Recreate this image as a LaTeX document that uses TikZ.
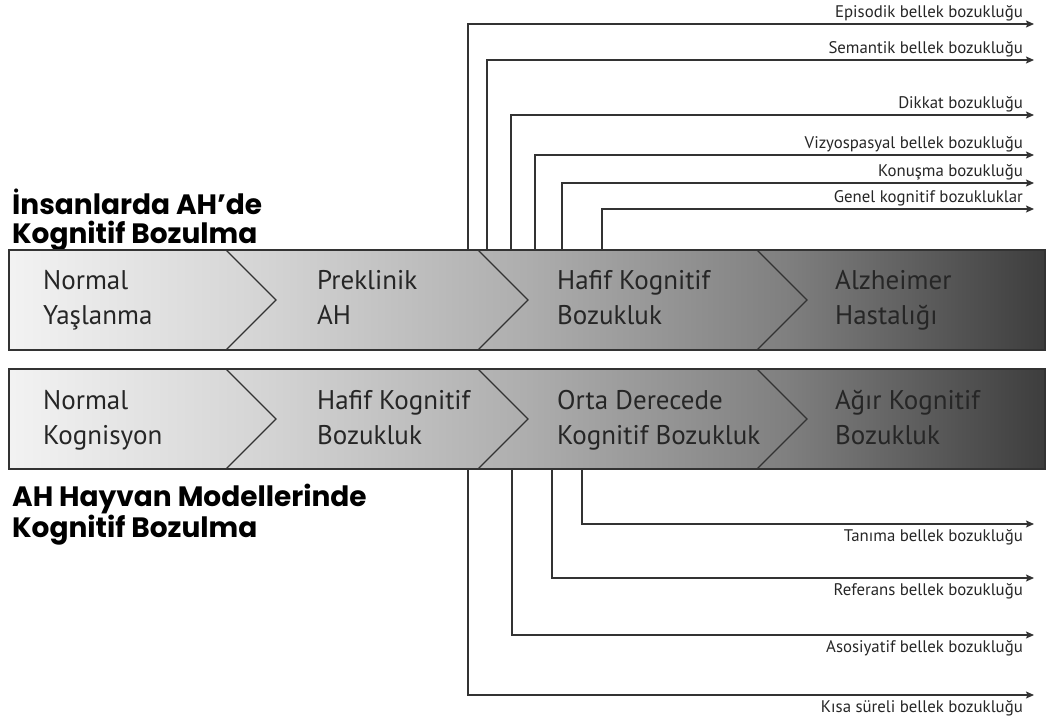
\documentclass[tikz,border=0pt]{standalone}
\usepackage{fontspec}
\setmainfont{PT Sans}
\newfontfamily\headfont{Poppins}
\usetikzlibrary{arrows.meta, positioning}

\definecolor{linegray}{HTML}{333333}
\definecolor{txtgray}{HTML}{262626}
\pgfdeclarehorizontalshading{bandshade}{100bp}{color(0bp)=(black!5); color(25bp)=(black!5);
  color(37.5bp)=(black!17); color(50bp)=(black!32); color(62.5bp)=(black!50);
  color(75bp)=(black!76); color(100bp)=(black!76)}

\begin{document}
\begin{tikzpicture}[x=1pt, y=-1pt,
    band/.style={draw=linegray, line width=1.4pt, shade, shading=bandshade,
                 minimum width=1036pt, minimum height=100pt, inner sep=0pt},
    chev/.style={draw=linegray, line width=1.2pt},
    stage/.style={anchor=west, align=left, inner sep=0pt, text=txtgray,
                  font=\fontsize{27}{35}\selectfont,
                  execute at begin node=\strut, execute at end node=\strut},
    head/.style={align=left, inner sep=0pt, text=black,
                 font=\headfont\bfseries\fontsize{28}{29}\selectfont},
    lbl/.style={inner sep=0pt, text=txtgray, font=\fontsize{16.8}{18}\selectfont},
    arr/.style={-{Stealth[length=8pt, width=7pt, inset=1.5pt]}, line width=1.3pt, draw=linegray}
]
\useasboundingbox (0,0) rectangle (1046,718);

% headings
\node[head, anchor=south west] (hhead) at (12,251) {İnsanlarda AH’de\\Kognitif Bozulma};
\node[head, anchor=north west] (ahead) at (12,484) {AH Hayvan Modellerinde\\Kognitif Bozulma};

% the two bands
\node[band] (hband) at (527,300) {};
\node[band] (aband) at (527,419) {};
\foreach \x in {226,478,757} {
  \draw[chev] (\x,250) -- (\x+50,300) -- (\x,350);
  \draw[chev] (\x,369) -- (\x+50,419) -- (\x,469);
}

% stages, humans
\node[stage] (h1) at (43,303) {Normal\\Yaşlanma};
\node[stage] (h2) at (317,303) {Preklinik\\AH};
\node[stage] (h3) at (557,303) {Hafif Kognitif\\Bozukluk};
\node[stage] (h4) at (835,303) {Alzheimer\\Hastalığı};

% stages, animal models
\node[stage] (a1) at (43,423) {Normal\\Kognisyon};
\node[stage] (a2) at (317,423) {Hafif Kognitif\\Bozukluk};
\node[stage] (a3) at (557,423) {Orta Derecede\\Kognitif Bozukluk};
\node[stage] (a4) at (835,423) {Ağır Kognitif\\Bozukluk};

% deficits above
\foreach \name/\x/\y/\txt in {epi/468/24/Episodik bellek bozukluğu,
    sem/487/60/Semantik bellek bozukluğu, dik/511/115/Dikkat bozukluğu,
    viz/535/155/Vizyospasyal bellek bozukluğu, kon/562/183/Konuşma bozukluğu,
    gen/602/209/Genel kognitif bozukluklar} {
  \coordinate (\name-s) at (\x,250);
  \coordinate (\name-e) at (1034,\y);
  \node[lbl, anchor=base east] (\name) at (1023,\y-7) {\txt};
  \draw[arr] (\name-s) |- (\name-e);
}

% deficits below
\foreach \name/\x/\y/\txt in {tan/582/524/Tanıma bellek bozukluğu,
    ref/552/578/Referans bellek bozukluğu, aso/512/635/Asosiyatif bellek bozukluğu,
    kis/468/695/Kısa süreli bellek bozukluğu} {
  \coordinate (\name-s) at (\x,469);
  \coordinate (\name-e) at (1034,\y);
  \node[lbl, anchor=north east] (\name) at (1023,\y+5) {\txt};
  \draw[arr] (\name-s) |- (\name-e);
}
\end{tikzpicture}
\end{document}
